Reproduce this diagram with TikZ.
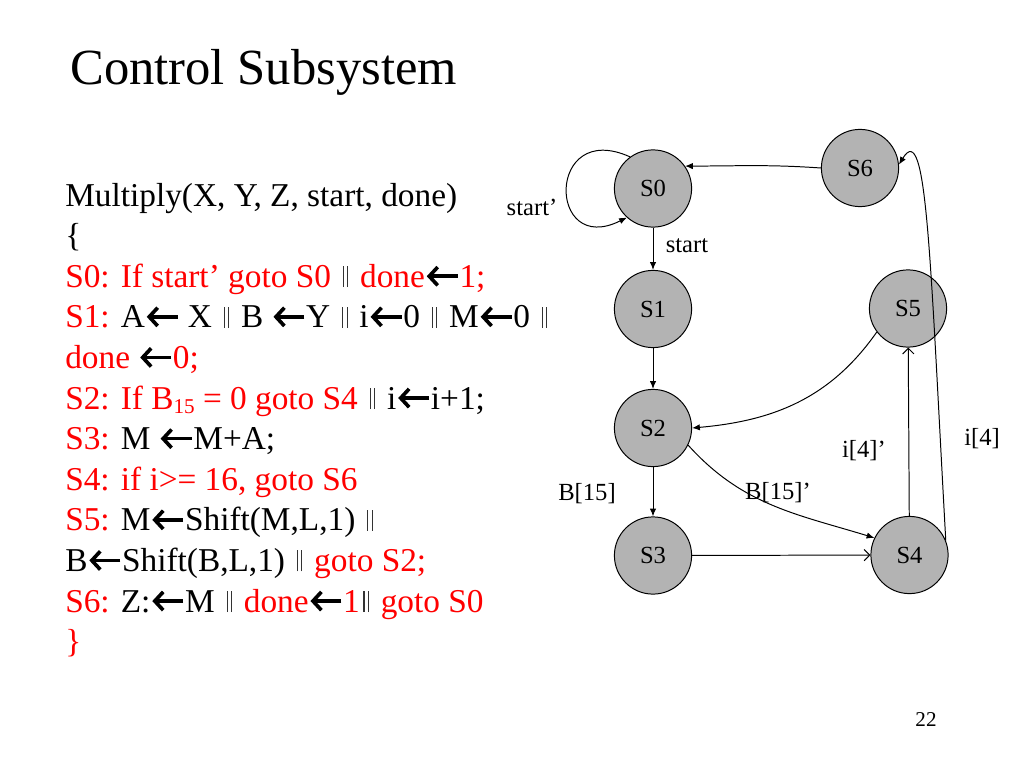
\documentclass[tikz,border=0pt]{standalone}
\usepackage{fontspec}
\setmainfont{Liberation Serif}
\usepackage{xcolor}
\usepackage{tikz}
\usetikzlibrary{arrows.meta}
\definecolor{stategray}{RGB}{179,179,179}
\tikzset{>=latex}
\tikzstyle{state} = [circle, draw = black, fill = stategray, line width = 0.7pt, minimum size = 1.93cm, inner sep = 0pt, font = \fontsize{17.5}{20}\selectfont]
\tikzstyle{lbl} = [draw = none, inner sep = 0pt, font = \fontsize{17.5}{20}\selectfont]
\tikzstyle{code} = [draw = none, anchor = base west, inner sep = 0pt, font = \fontsize{23.7}{28}\selectfont]
\tikzstyle{tipf} = [-{Latex[length = 5.5pt, width = 4.5pt]}, line width = 0.7pt]
\tikzstyle{tipo} = [-{Straight Barb[length = 4pt, width = 8pt]}, line width = 0.7pt]
\newcommand{\rd}[1]{\textcolor{red}{#1}}
% heavy left arrow and double bar used in the listing
\newcommand{\larr}{\tikz [baseline = 0pt] \draw [line width = 2.6pt, -{Straight Barb[length = 6pt, width = 13pt]}] (24.5pt, 7.8pt) -- (2.5pt, 7.8pt);}
\newcommand{\bars}{\hspace{2.5pt}\textcolor{black!80}{\rule{0.8pt}{15pt}\hspace{2.3pt}\rule{0.8pt}{15pt}}\hspace{2.5pt}}
\newcommand{\lowsub}[1]{\raisebox{-0.3ex}{\fontsize{15}{15}\selectfont #1}}

\begin{document}
\begin{tikzpicture}[x = 0.025cm, y = -0.025cm]
\useasboundingbox (0, 0) rectangle (1024, 768);
% title and page number
\node [draw = none, anchor = base west, inner sep = 0pt, font = \fontsize{36}{40}\selectfont] (title) at (70, 85) {Control Subsystem};
\node [draw = none, anchor = base, inner sep = 0pt, font = \fontsize{15}{16}\selectfont] (page) at (926, 726) {22};
% code listing
\node [code] (l1) at (65, 206) {Multiply(X, Y, Z, start, done)};
\node [code] (l2) at (65, 246.6) {\{};
\node [code] (l3) at (65, 287.2) {\rd{S0: If start’ goto S0 }\bars{} \rd{done}\larr\rd{1;}};
\node [code] (l4) at (65, 327.8) {\rd{S1:} A\larr{} X \bars{} B \larr Y \bars{} i\larr 0 \bars{} M\larr 0 \bars};
\node [code] (l5) at (65, 368.4) {\rd{done} \larr\rd{0;}};
\node [code] (l6) at (65, 409) {\rd{S2: If B\lowsub{15} = 0 goto S4 }\bars{} i\larr i+1;};
\node [code] (l7) at (65, 449.6) {\rd{S3:} M \larr M+A;};
\node [code] (l8) at (65, 490.2) {\rd{S4: if i>= 16, goto S6}};
\node [code] (l9) at (65, 530.8) {\rd{S5:} M\larr Shift(M,L,1) \bars};
\node [code] (l10) at (65, 571.4) {B\larr Shift(B,L,1) \bars{} \rd{goto S2;}};
\node [code] (l11) at (65, 612) {\rd{S6:} Z:\larr M \bars{} \rd{done}\larr\rd{1}\bars{} \rd{goto S0}};
\node [code] (l12) at (65, 652.6) {\rd{\}}};
% states
\node [state] (S0) at (653, 188.5) {S0};
\node [state] (S1) at (653, 309) {S1};
\node [state] (S2) at (653, 428) {S2};
\node [state] (S3) at (653, 555.5) {S3};
\node [state] (S4) at (909.5, 555) {S4};
\node [state] (S5) at (908, 308.5) {S5};
\node [state] (S6) at (860, 168) {S6};
% transitions
\draw [tipf] (S0) to (S1);
\draw [tipf] (S1) to (S2);
\draw [tipf] (S2) to (S3);
\draw [tipo] (S3) to (S4);
\draw [tipo] (S4) to (S5);
\draw [tipf] (S0.126) .. controls +(-84, -38) and +(-80, 40) .. (S0.228);
\draw [tipf] (S2.-26) to [out = -48, in = 163] (S4.154);
\draw [tipf] (S5.217) to [out = 235, in = 5] (S2.east);
\draw [tipf] (S4.22) .. controls +(-16, -288) and +(28, -46) .. (S6.5);
\draw [tipf] (S6.west) to [out = 176, in = 0] (S0.35);
% conditions
\node [lbl] (c0) at (532, 207) {start’};
\node [lbl] (c1) at (687, 246) {start};
\node [lbl] (c2) at (587, 494) {B[15]};
\node [lbl] (c3) at (778, 493) {B[15]’};
\node [lbl] (c4) at (864, 451) {i[4]’};
\node [lbl] (c5) at (982, 439) {i[4]};
\end{tikzpicture}
\end{document}
